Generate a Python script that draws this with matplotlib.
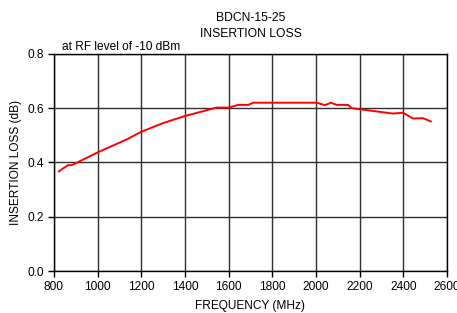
import matplotlib
matplotlib.use("Agg")
import matplotlib.pyplot as plt

# values
freq = [823, 864, 882, 1000, 1134, 1200, 1300, 1400, 1545, 1600, 1644, 1690,
        1713, 2003, 2041, 2069, 2095, 2147, 2164, 2353, 2399, 2444, 2490, 2526]
loss = [0.367, 0.39, 0.39, 0.437, 0.485, 0.513, 0.545, 0.571, 0.602, 0.602, 0.612, 0.612,
        0.62, 0.62, 0.611, 0.62, 0.612, 0.612, 0.600, 0.580, 0.583, 0.562, 0.563, 0.551]
xticks = [800, 1000, 1200, 1400, 1600, 1800, 2000, 2200, 2400, 2600]
yticks = [0.0, 0.2, 0.4, 0.6, 0.8]

plt.rcParams['font.family'] = ['Liberation Sans', 'DejaVu Sans']
plt.rcParams['font.size'] = 8.6

fig = plt.figure(figsize=(4.57, 3.13), dpi=100)
ax = fig.add_axes([0.118, 0.134, 0.86, 0.694])

ax.plot(freq, loss, color='red', lw=1.4)

ax.set_xlim(800, 2600)
ax.set_ylim(0, 0.8)
ax.set_xticks(xticks)
ax.set_yticks(yticks)
ax.set_yticklabels(['%.1f' % v for v in yticks])
ax.grid(True, color='#303030', lw=1)
ax.set_axisbelow(True)
for s in ax.spines.values():
    s.set_color('black')
    s.set_linewidth(1)
ax.tick_params(direction='out', length=4, width=1, pad=3)

ax.set_xlabel('FREQUENCY (MHz)', labelpad=5)
ax.set_ylabel('INSERTION LOSS (dB)', labelpad=4)
ax.set_title('BDCN-15-25\nINSERTION LOSS', fontsize=8.7, pad=12, linespacing=1.45)
ax.text(0.02, 1.005, 'at RF level of -10 dBm', transform=ax.transAxes,
        ha='left', va='bottom', fontsize=8.6)

fig.savefig('out.png', dpi=100)
